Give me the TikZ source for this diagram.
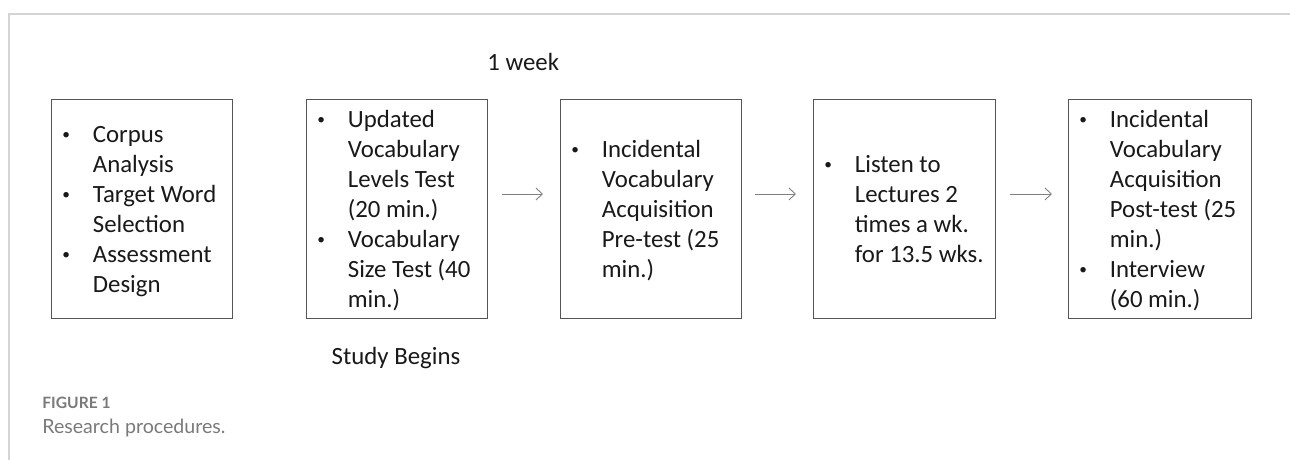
\documentclass[tikz,border=0pt]{standalone}
\usepackage{fontspec}
\setmainfont{Carlito}
\newfontfamily\capfont{Lato}
\usetikzlibrary{arrows.meta}
\definecolor{framegray}{HTML}{D4D4D4}
\definecolor{boxline}{HTML}{555555}
\definecolor{arrowgray}{HTML}{808080}
\definecolor{capgray}{HTML}{7A7A7A}
\tikzset{
  stagebox/.style={draw=boxline, line width=0.65pt, anchor=north west, inner sep=0pt, minimum height=109.5pt},
  txt/.style={anchor=west, inner sep=0pt, text=black!90, font=\fontsize{12.4}{15}\selectfont},
  lbl/.style={inner sep=0pt, text=black!90, font=\fontsize{12.4}{15}\selectfont},
  flow/.style={draw=arrowgray, line width=0.45pt, -{Straight Barb[length=3.2pt,width=6pt]}},
}
\newcommand{\blt}{\raisebox{1.2pt}{\scalebox{0.62}{\textbullet}}}
\newenvironment{blist}{\begin{tabular}{@{}p{15.25pt}@{}l@{}}}{\end{tabular}}
\begin{document}
\begin{tikzpicture}[x=0.5pt,y=-0.5pt]
\useasboundingbox (0,0) rectangle (1290,460);
\fill[white] (0,0) rectangle (1290,460);
% frame
\draw[framegray, line width=0.8pt] (8,14) -- (1290,14);
\draw[framegray, line width=1pt] (9,14) -- (9,460);
% boxes
\node[stagebox, minimum width=90.5pt] (b1) at (51,99) {};
\node[stagebox, minimum width=90.5pt] (b2) at (306,99) {};
\node[stagebox, minimum width=90.5pt] (b3) at (560,99) {};
\node[stagebox, minimum width=91pt] (b4) at (813,99) {};
\node[stagebox, minimum width=91.5pt] (b5) at (1068,99) {};
% texts
\node[txt] (t1) at (62,211) {\begin{blist}
\blt & Corpus\\ & Analysis\\ \blt & Target Word\\ & Selection\\ \blt & Assessment\\ & Design\end{blist}};
\node[txt] (t2) at (317,211) {\begin{blist}
\blt & Updated\\ & Vocabulary\\ & Levels Test\\ & (20 min.)\\ \blt & Vocabulary\\ & Size Test (40\\ & min.)\end{blist}};
\node[txt] (t3) at (571,211) {\begin{blist}
\blt & Incidental\\ & Vocabulary\\ & Acquisition\\ & Pre-test (25\\ & min.)\end{blist}};
\node[txt] (t4) at (824,211) {\begin{blist}
\blt & Listen to\\ & Lectures 2\\ & times a wk.\\ & for 13.5 wks.\end{blist}};
\node[txt] (t5) at (1079,211) {\begin{blist}
\blt & Incidental\\ & Vocabulary\\ & Acquisition\\ & Post-test (25\\ & min.)\\ \blt & Interview\\ & (60 min.)\end{blist}};
% arrows
\coordinate (a1s) at (502,194); \coordinate (a1e) at (543,194);
\coordinate (a2s) at (755,194); \coordinate (a2e) at (796,194);
\coordinate (a3s) at (1010,194); \coordinate (a3e) at (1052,194);
\draw[flow] (a1s) -- (a1e);
\draw[flow] (a2s) -- (a2e);
\draw[flow] (a3s) -- (a3e);
% labels
\node[lbl, anchor=west] (wk) at (487,62) {1 week};
\node[lbl] (sb) at (396,358) {Study Begins};
% caption
\node[anchor=west, inner sep=0pt, text=capgray, font=\capfont\bfseries\fontsize{7.8}{9}\selectfont] (fig) at (42,403) {FIGURE 1};
\node[anchor=west, inner sep=0pt, text=capgray, font=\capfont\fontsize{9.8}{11}\selectfont] (cap) at (42,428) {Research procedures.};
\end{tikzpicture}
\end{document}
